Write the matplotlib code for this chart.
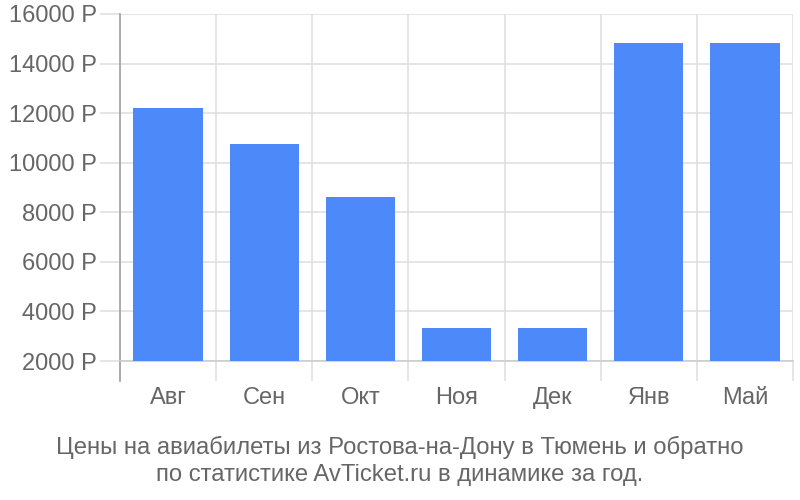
import numpy as np
import matplotlib
matplotlib.use("Agg")
import matplotlib.pyplot as plt

# data
months = ["Авг", "Сен", "Окт", "Ноя", "Дек", "Янв", "Май"]
prices = [12200, 10750, 8600, 3350, 3350, 14850, 14850]
yticks = [2000, 4000, 6000, 8000, 10000, 12000, 14000, 16000]
caption = ("Цены на авиабилеты из Ростова-на-Дону в Тюмень и обратно\n"
           "по статистике AvTicket.ru в динамике за год.")

plt.rcParams['font.family'] = ['Liberation Sans', 'DejaVu Sans']

fig = plt.figure(figsize=(8, 5), dpi=100)
ax = fig.add_axes([120/800, 1-361/500, (793-120)/800, (361-14)/500])

x = np.arange(len(months))
ax.bar(x, np.array(prices) - 2000, bottom=2000, width=0.72,
       color='#4d89f9', zorder=3)

ax.set_xlim(-0.5, len(months) - 0.5)
ax.set_ylim(2000, 16000)

# y ticks / horizontal grid
ax.set_yticks(yticks)
ax.set_yticklabels([f"{v} Р" for v in yticks])
ax.yaxis.grid(True, color='#e0e0e0', linewidth=1.2, zorder=0)
ax.tick_params(axis='y', length=14.4, width=1.2, color='#e0e0e0',
               labelsize=17, labelcolor='#666666', pad=2)

# x labels at centres, grid/ticks at boundaries
ax.set_xticks(x)
ax.set_xticklabels(months)
ax.tick_params(axis='x', which='major', length=0, labelsize=17,
               labelcolor='#666666', pad=19)
ax.set_xticks(np.arange(len(months) + 1) - 0.5, minor=True)
ax.tick_params(axis='x', which='minor', length=14.4, width=1.2,
               color='#e0e0e0')
ax.xaxis.grid(True, which='minor', color='#e0e0e0', linewidth=1.2, zorder=0)

for s in ['top', 'right']:
    ax.spines[s].set_visible(False)
ax.spines['left'].set_color('#a0a0a0')
ax.spines['left'].set_linewidth(1.2)
ax.spines['left'].set_bounds(2000 - 14000 * 20/347, 16000)
ax.spines['left'].set_clip_on(False)
ax.spines['bottom'].set_color('#cccccc')
ax.spines['bottom'].set_linewidth(1.2)

fig.text(0.5, 1-461/500, caption, ha='center', va='center',
         fontsize=17.2, color='#666666', linespacing=1.32)

fig.savefig("out.png", dpi=100)
